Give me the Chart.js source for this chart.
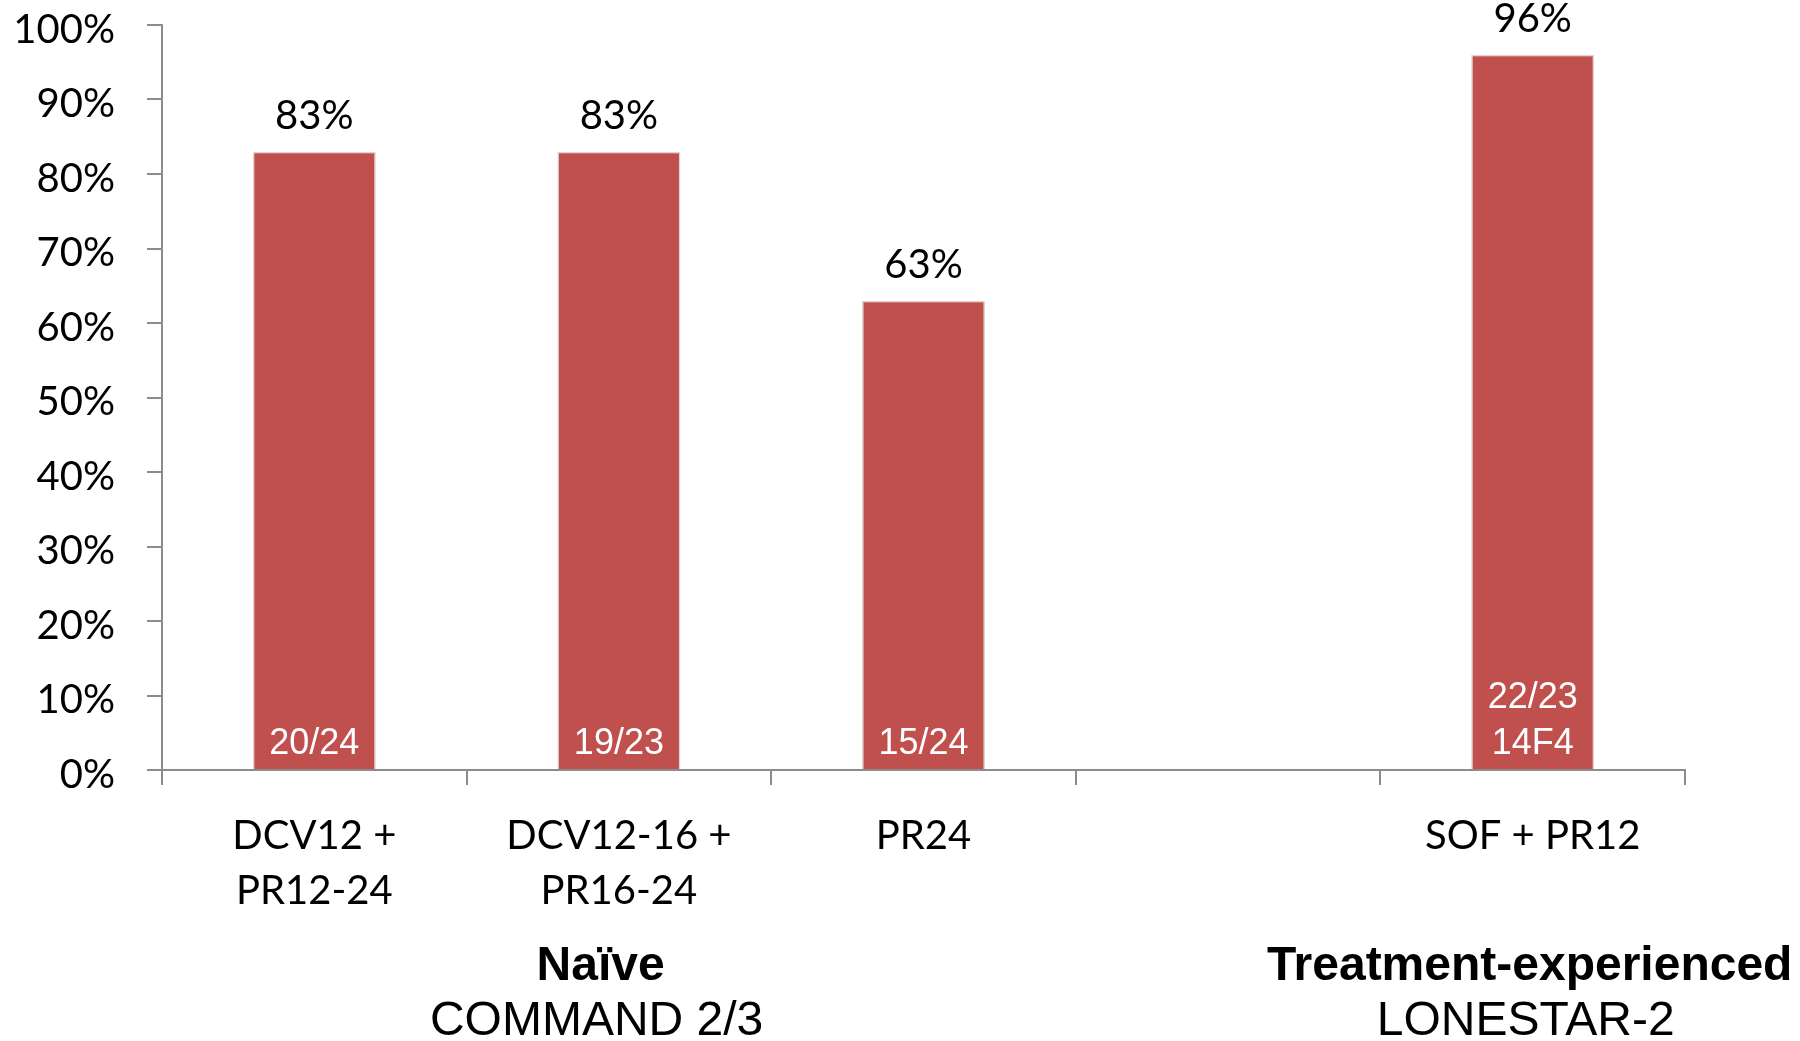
<!DOCTYPE html>
<html>
<head>
<meta charset="utf-8">
<script src="https://cdn.jsdelivr.net/npm/chart.js@4.4.1/dist/chart.umd.min.js"></script>
<style>
  html, body { margin: 0; padding: 0; background: #ffffff; }
  #wrap { width: 1800px; height: 1041px; position: relative; }
</style>
</head>
<body>
<div id="wrap"><canvas id="chart"></canvas></div>
<script>
// Regimen categories (the 4th slot is an intentional gap between study groups)
const categories = [
  ["DCV12 +", "PR12-24"],
  ["DCV12-16 +", "PR16-24"],
  "PR24",
  "",
  "SOF + PR12"
];
// SVR rate per regimen, in percent
const svrRates = [83, 83, 63, null, 96];
// Responders / patients, printed inside each bar
const responders = [["20/24"], ["19/23"], ["15/24"], [], ["22/23", "14F4"]];
// Study groups printed under the regimen labels
const groupTitles = ["Naïve", "Treatment-experienced"];
const groupStudies = ["COMMAND 2/3", "LONESTAR-2"];
const groupCenters = [0.94, 3.99];   // position on the category axis (index units)
const yTicks = [0, 10, 20, 30, 40, 50, 60, 70, 80, 90, 100];

const BAR = '#C0504D';
const AXIS = '#8C8C8C';
const LABEL_FONT = 'Lato, "Open Sans", sans-serif';

const labelsPlugin = {
  id: 'barLabels',
  afterDatasetsDraw(chart) {
    const ctx = chart.ctx;
    const meta = chart.getDatasetMeta(0);
    const yScale = chart.scales.y;
    const xScale = chart.scales.x;
    ctx.save();
    meta.data.forEach((bar, i) => {
      const v = svrRates[i];
      if (v == null) return;
      // value above the bar
      ctx.fillStyle = '#000';
      ctx.font = '40px ' + LABEL_FONT;
      ctx.textAlign = 'center';
      ctx.textBaseline = 'middle';
      ctx.fillText(v + '%', bar.x, bar.y - 36);
      // responder counts at the foot of the bar
      const lines = responders[i];
      ctx.fillStyle = '#fff';
      ctx.font = '36px "Liberation Sans", Arial, sans-serif';
      const base = yScale.getPixelForValue(0) - 26;
      lines.forEach((t, k) => {
        ctx.fillText(t, bar.x, base - (lines.length - 1 - k) * 46);
      });
    });
    // group captions under the axis
    const axisY = yScale.getPixelForValue(0);
    const p0 = xScale.getPixelForValue(0);
    const step = xScale.getPixelForValue(1) - p0;
    groupTitles.forEach((t, g) => {
      const cx = p0 + step * groupCenters[g];
      ctx.fillStyle = '#000';
      ctx.textAlign = 'center';
      ctx.textBaseline = 'middle';
      ctx.font = 'bold 48px "Liberation Sans", Arial, sans-serif';
      ctx.fillText(t, cx, axisY + 197);
      ctx.font = '48px "Liberation Sans", Arial, sans-serif';
      ctx.fillText(groupStudies[g], cx - 4, axisY + 252);
    });
    ctx.restore();
  }
};

new Chart(document.getElementById('chart'), {
  type: 'bar',
  data: {
    labels: categories,
    datasets: [{
      data: svrRates,
      backgroundColor: BAR,
      borderColor: '#E2D2D2',
      borderWidth: 1.5,
      categoryPercentage: 1.0,
      barPercentage: 0.404
    }]
  },
  options: {
    responsive: true,
    maintainAspectRatio: false,
    animation: false,
    layout: { padding: { top: 25, right: 115, left: 0, bottom: 0 } },
    plugins: { legend: { display: false }, tooltip: { enabled: false } },
    scales: {
      x: {
        offset: true,
        border: { display: true, color: AXIS, width: 2 },
        grid: { display: true, offset: true, drawOnChartArea: false, drawTicks: true, tickLength: 15, color: AXIS, lineWidth: 2 },
        ticks: {
          color: '#000',
          font: { family: LABEL_FONT, size: 40, lineHeight: 1.38 },
          padding: 23,
          maxRotation: 0,
          autoSkip: false
        },
        afterFit(scale) { scale.height = 271; }
      },
      y: {
        min: 0,
        max: 100,
        afterBuildTicks(scale) { scale.ticks = yTicks.map(v => ({ value: v })); },
        border: { display: true, color: AXIS, width: 2 },
        grid: { display: true, drawOnChartArea: false, drawTicks: true, tickLength: 15, color: AXIS, lineWidth: 2 },
        ticks: {
          color: '#000',
          font: { family: LABEL_FONT, size: 40 },
          padding: 32,
          labelOffset: 5,
          callback: v => v + '%'
        },
        afterFit(scale) {
          scale.width = 162;
          scale.paddingTop = 0;
          scale.paddingBottom = 0;
        }
      }
    }
  },
  plugins: [labelsPlugin]
});
</script>
</body>
</html>
